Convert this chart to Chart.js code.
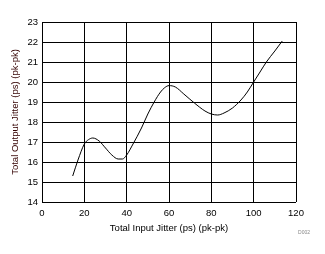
<!DOCTYPE html>
<html>
<head>
<meta charset="utf-8">
<script src="https://cdn.jsdelivr.net/npm/chart.js@4"></script>
<style>
  html, body { margin: 0; padding: 0; background: #fff; }
  #wrap { position: relative; width: 325px; height: 254px; }
</style>
</head>
<body>
<div id="wrap"><canvas id="myChart" width="325" height="254"></canvas></div>
<script>
// Input jitter (ps pk-pk)
const inputJitter = [14.5, 17, 20, 22, 24, 27, 30, 33, 36, 38, 40, 43, 47, 50, 53, 56, 58, 60, 63, 67, 72, 77, 80, 83, 86, 90, 94, 97, 100, 103, 106, 110, 113.5];
// Output jitter (ps pk-pk)
const outputJitter = [15.3, 16.1, 16.9, 17.12, 17.2, 17.05, 16.7, 16.35, 16.15, 16.15, 16.35, 16.9, 17.7, 18.4, 19.0, 19.5, 19.72, 19.82, 19.75, 19.4, 18.95, 18.55, 18.4, 18.35, 18.45, 18.7, 19.1, 19.5, 20.0, 20.5, 21.0, 21.55, 22.05];

const xTicks = [0, 20, 40, 60, 80, 100, 120];
const yTicks = [14, 15, 16, 17, 18, 19, 20, 21, 22, 23];

const fontFamily = "'Liberation Sans', Arial, sans-serif";

const xyValues = inputJitter.map((x, i) => ({ x: x, y: outputJitter[i] }));

const ctx = document.getElementById("myChart");

const chart = new Chart(ctx, {
  type: "scatter",
  data: {
    datasets: [
      {
        label: "Output Jitter",
        data: xyValues,
        showLine: true,
        borderColor: "#000",
        borderWidth: 1,
        pointRadius: 0,
        cubicInterpolationMode: "monotone",
        fill: false,
      },
    ],
  },
  options: {
    responsive: false,
    animation: false,
    devicePixelRatio: 1,
    layout: {
      padding: { top: 22, right: 29, left: 10, bottom: 20 },
    },
    scales: {
      x: {
        type: "linear",
        min: 0,
        max: 120,
        afterBuildTicks(scale) {
          scale.ticks = xTicks.map((v) => ({ value: v }));
        },
        afterFit(scale) {
          scale.height = 32;
        },
        border: { display: false },
        grid: { color: "#000", lineWidth: 1, drawTicks: false },
        ticks: {
          color: "#000",
          padding: 6,
          maxRotation: 0,
          font: { family: fontFamily, size: 9.5 },
        },
        title: {
          display: true,
          text: "Total Input Jitter (ps) (pk-pk)",
          color: "#000",
          padding: 0,
          font: { family: fontFamily, size: 9.5 },
        },
      },
      y: {
        type: "linear",
        min: 14,
        max: 23,
        afterBuildTicks(scale) {
          scale.ticks = yTicks.map((v) => ({ value: v }));
        },
        afterFit(scale) {
          scale.width = 32;
        },
        border: { display: false },
        grid: { color: "#000", lineWidth: 1, drawTicks: false },
        ticks: {
          color: "#000",
          padding: 4,
          font: { family: fontFamily, size: 9.5 },
        },
        title: {
          display: true,
          text: "Total Output Jitter (ps) (pk-pk)",
          color: "#300",
          padding: { top: 0, bottom: 0 },
          font: { family: fontFamily, size: 9.5 },
        },
      },
    },
    plugins: {
      legend: { display: false },
      tooltip: { enabled: false },
    },
  },
  plugins: [
    {
      id: "figure_code",
      afterDraw(chart) {
        const { ctx } = chart;
        ctx.save();
        ctx.font = "5px " + fontFamily;
        ctx.fillStyle = "#888";
        ctx.textAlign = "right";
        ctx.textBaseline = "middle";
        ctx.fillText("D002", 310, 233);
        ctx.restore();
      },
    },
  ],
});
</script>
</body>
</html>
